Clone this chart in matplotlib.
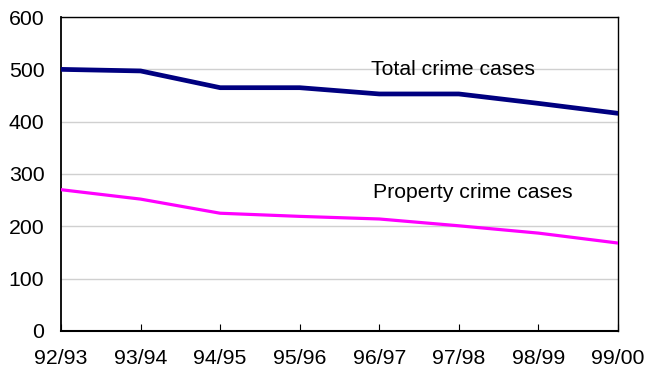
import matplotlib
matplotlib.use('Agg')
import matplotlib.pyplot as plt

matplotlib.rcParams['font.family'] = ['Liberation Sans', 'DejaVu Sans']

# yearly case counts
years = ['92/93', '93/94', '94/95', '95/96', '96/97', '97/98', '98/99', '99/00']
total_cases = [500, 497, 465, 465, 453, 453, 435, 416]
property_cases = [270, 252, 225, 219, 214, 201, 187, 168]

fig = plt.figure(figsize=(6.45, 3.71), dpi=100)
ax = fig.add_axes([0.0946, 0.108, 0.8635, 0.846])

x = range(len(years))
ax.plot(x, total_cases, color='#000080', linewidth=3.4, solid_capstyle='round', zorder=3)
ax.plot(x, property_cases, color='#FF00FF', linewidth=2.3, solid_capstyle='round', zorder=3)

ax.set_xlim(0, len(years) - 1)
ax.set_ylim(0, 600)
ax.set_xticks(list(x))
ax.set_xticklabels(years)
ax.set_yticks(range(0, 601, 100))

ax.yaxis.grid(True, color='#D0D0D0', linewidth=1.0)
ax.set_axisbelow(True)

ax.tick_params(axis='x', direction='in', length=5, width=0.8, pad=13, labelsize=15.3)
ax.tick_params(axis='y', length=0, pad=12, labelsize=15.3)
for s in ['top', 'right', 'bottom']:
    ax.spines[s].set_linewidth(1.0)
ax.spines['left'].set_linewidth(1.3)
ax.spines['bottom'].set_linewidth(1.5)

ax.text(4.93, 500, 'Total crime cases', fontsize=15.3, ha='center', va='center')
ax.text(5.17, 265, 'Property crime cases', fontsize=15.3, ha='center', va='center')

fig.savefig('out.png', dpi=100)
